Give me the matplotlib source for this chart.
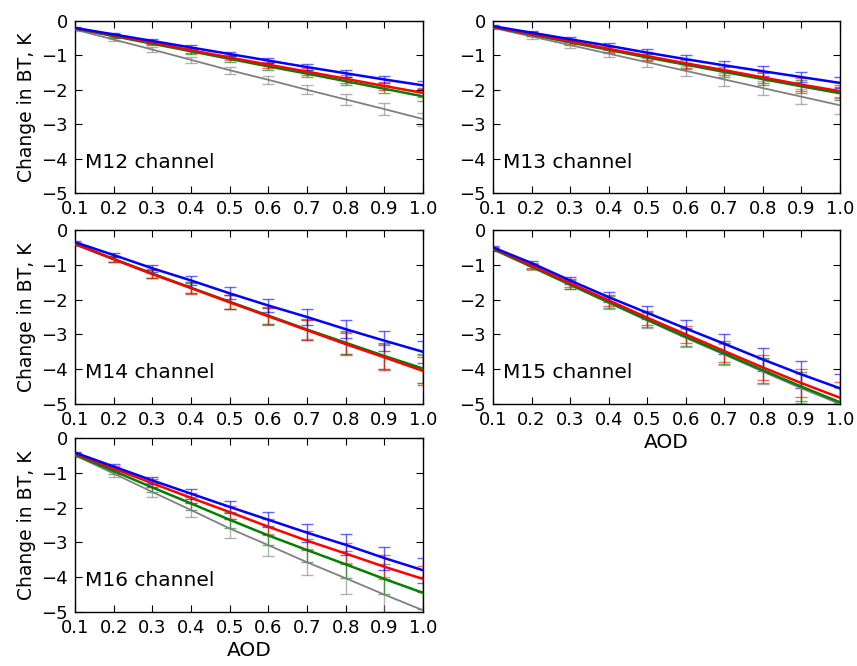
import matplotlib
matplotlib.use("Agg")
import matplotlib.pyplot as plt

plt.rcParams['axes.unicode_minus'] = True
plt.rcParams['font.family'] = ['DejaVu Sans']

aod = [0.1, 0.2, 0.3, 0.4, 0.5, 0.6, 0.7, 0.8, 0.9, 1.0]
xticks = [0.1, 0.2, 0.3, 0.4, 0.5, 0.6, 0.7, 0.8, 0.9, 1.0]
yticks = [0, -1, -2, -3, -4, -5]

# M12
m12_blue = [-0.20, -0.39, -0.58, -0.77, -0.96, -1.15, -1.34, -1.52, -1.70, -1.87]
m12_red = [-0.21, -0.42, -0.63, -0.85, -1.06, -1.27, -1.47, -1.68, -1.89, -2.09]
m12_green = [-0.22, -0.44, -0.66, -0.88, -1.10, -1.32, -1.53, -1.75, -1.97, -2.19]
m12_gray = [-0.25, -0.54, -0.83, -1.13, -1.43, -1.71, -2.00, -2.28, -2.56, -2.85]
m12_blue_err = [0.02, 0.03, 0.05, 0.06, 0.07, 0.08, 0.09, 0.10, 0.11, 0.12]
m12_red_err = [0.02, 0.04, 0.05, 0.07, 0.08, 0.09, 0.10, 0.11, 0.12, 0.13]
m12_green_err = [0.02, 0.04, 0.05, 0.07, 0.08, 0.09, 0.10, 0.11, 0.12, 0.13]
m12_gray_err = [0.03, 0.05, 0.07, 0.08, 0.10, 0.11, 0.13, 0.15, 0.17, 0.19]

# M13
m13_blue = [-0.15, -0.34, -0.53, -0.72, -0.92, -1.11, -1.29, -1.46, -1.63, -1.80]
m13_red = [-0.17, -0.38, -0.59, -0.81, -1.02, -1.23, -1.43, -1.64, -1.85, -2.04]
m13_green = [-0.18, -0.40, -0.62, -0.84, -1.06, -1.27, -1.48, -1.69, -1.90, -2.10]
m13_gray = [-0.20, -0.45, -0.70, -0.95, -1.20, -1.45, -1.70, -1.95, -2.20, -2.45]
m13_blue_err = [0.03, 0.04, 0.06, 0.08, 0.10, 0.12, 0.13, 0.14, 0.15, 0.16]
m13_red_err = [0.03, 0.05, 0.07, 0.09, 0.11, 0.13, 0.15, 0.17, 0.18, 0.19]
m13_green_err = [0.03, 0.05, 0.07, 0.09, 0.11, 0.13, 0.15, 0.17, 0.18, 0.19]
m13_gray_err = [0.03, 0.06, 0.08, 0.10, 0.13, 0.15, 0.18, 0.20, 0.22, 0.24]

# M14
m14_blue = [-0.35, -0.72, -1.10, -1.45, -1.82, -2.17, -2.50, -2.85, -3.18, -3.50]
m14_red = [-0.40, -0.84, -1.27, -1.67, -2.08, -2.48, -2.88, -3.28, -3.66, -4.05]
m14_green = [-0.40, -0.83, -1.25, -1.66, -2.06, -2.46, -2.86, -3.24, -3.62, -3.98]
m14_gray = [-0.42, -0.85, -1.26, -1.66, -2.07, -2.47, -2.86, -3.25, -3.63, -4.00]
m14_blue_err = [0.03, 0.06, 0.10, 0.13, 0.17, 0.20, 0.23, 0.26, 0.29, 0.32]
m14_red_err = [0.04, 0.08, 0.12, 0.16, 0.20, 0.24, 0.28, 0.32, 0.36, 0.40]
m14_green_err = [0.04, 0.08, 0.12, 0.16, 0.20, 0.25, 0.29, 0.33, 0.37, 0.41]
m14_gray_err = [0.04, 0.08, 0.12, 0.16, 0.20, 0.24, 0.28, 0.32, 0.36, 0.40]

# M15
m15_blue = [-0.50, -0.95, -1.45, -1.93, -2.38, -2.83, -3.27, -3.72, -4.15, -4.55]
m15_red = [-0.52, -1.02, -1.53, -2.02, -2.52, -3.00, -3.48, -3.95, -4.40, -4.82]
m15_green = [-0.55, -1.05, -1.57, -2.07, -2.58, -3.07, -3.55, -4.03, -4.50, -4.95]
m15_gray = [-0.55, -1.07, -1.58, -2.10, -2.60, -3.10, -3.58, -4.07, -4.55, -5.00]
m15_blue_err = [0.04, 0.07, 0.11, 0.15, 0.19, 0.23, 0.28, 0.33, 0.38, 0.42]
m15_red_err = [0.04, 0.08, 0.12, 0.16, 0.20, 0.25, 0.30, 0.35, 0.40, 0.44]
m15_green_err = [0.04, 0.08, 0.12, 0.16, 0.21, 0.26, 0.31, 0.36, 0.41, 0.45]
m15_gray_err = [0.04, 0.08, 0.12, 0.16, 0.21, 0.26, 0.31, 0.36, 0.41, 0.45]

# M16
m16_blue = [-0.42, -0.82, -1.22, -1.60, -1.98, -2.35, -2.72, -3.07, -3.45, -3.80]
m16_red = [-0.45, -0.88, -1.30, -1.72, -2.13, -2.55, -2.95, -3.32, -3.70, -4.05]
m16_green = [-0.48, -0.95, -1.42, -1.88, -2.35, -2.80, -3.22, -3.63, -4.05, -4.45]
m16_gray = [-0.50, -1.02, -1.55, -2.07, -2.60, -3.08, -3.57, -4.03, -4.50, -4.95]
m16_blue_err = [0.03, 0.07, 0.10, 0.14, 0.18, 0.22, 0.26, 0.30, 0.33, 0.36]
m16_red_err = [0.03, 0.07, 0.11, 0.15, 0.19, 0.23, 0.27, 0.31, 0.35, 0.38]
m16_green_err = [0.04, 0.08, 0.13, 0.18, 0.23, 0.28, 0.33, 0.38, 0.43, 0.47]
m16_gray_err = [0.04, 0.09, 0.14, 0.20, 0.26, 0.32, 0.38, 0.44, 0.50, 0.55]

panels = [
    ("M12 channel", m12_blue, m12_red, m12_green, m12_gray,
     m12_blue_err, m12_red_err, m12_green_err, m12_gray_err),
    ("M13 channel", m13_blue, m13_red, m13_green, m13_gray,
     m13_blue_err, m13_red_err, m13_green_err, m13_gray_err),
    ("M14 channel", m14_blue, m14_red, m14_green, m14_gray,
     m14_blue_err, m14_red_err, m14_green_err, m14_gray_err),
    ("M15 channel", m15_blue, m15_red, m15_green, m15_gray,
     m15_blue_err, m15_red_err, m15_green_err, m15_gray_err),
    ("M16 channel", m16_blue, m16_red, m16_green, m16_gray,
     m16_blue_err, m16_red_err, m16_green_err, m16_gray_err),
]

W, H = 857, 666
fig = plt.figure(figsize=(W / 100, H / 100), dpi=100)

cols = [(75, 423), (493, 840)]
rows = [(21, 193), (230, 404), (438, 612)]
positions = [(0, 0), (0, 1), (1, 0), (1, 1), (2, 0)]

for (name, b, r, g, gr, be, re_, ge, gre), (ri, ci) in zip(panels, positions):
    x0, x1 = cols[ci]
    y0, y1 = rows[ri]
    ax = fig.add_axes([x0 / W, 1 - y1 / H, (x1 - x0) / W, (y1 - y0) / H])
    series = [(gr, gre, '#808080', 1.3), (g, ge, '#008000', 1.8),
              (r, re_, '#ff0000', 1.8), (b, be, '#0000ff', 1.8)]
    for vals, errs, col, lw in series:
        ax.plot(aod, vals, color=col, lw=lw, zorder=3)
        ax.errorbar(aod, vals, yerr=errs, fmt='none', elinewidth=1.0,
                    capsize=4, capthick=1.0, ecolor=col, alpha=0.6,
                    zorder=2)
    ax.set_xlim(0.1, 1.0)
    ax.set_ylim(-5, 0)
    ax.set_xticks(xticks)
    ax.set_xticklabels([f"{t:.1f}" for t in xticks])
    ax.set_yticks(yticks)
    ax.set_yticklabels([("\u2212" + str(-t)) if t < 0 else str(t) for t in yticks])
    ax.tick_params(direction='in', top=True, right=True, labelsize=13,
                   length=5, pad=5)
    for s in ax.spines.values():
        s.set_linewidth(1.0)
    ax.text(0.03, 0.18, name, transform=ax.transAxes, fontsize=14.5,
            ha='left', va='center')
    if ci == 0:
        ax.set_ylabel("Change in BT, K", fontsize=13.5, labelpad=4)
    if name in ("M15 channel", "M16 channel"):
        ax.set_xlabel("AOD", fontsize=14.5, labelpad=3)

fig.savefig("out.png", dpi=100)
